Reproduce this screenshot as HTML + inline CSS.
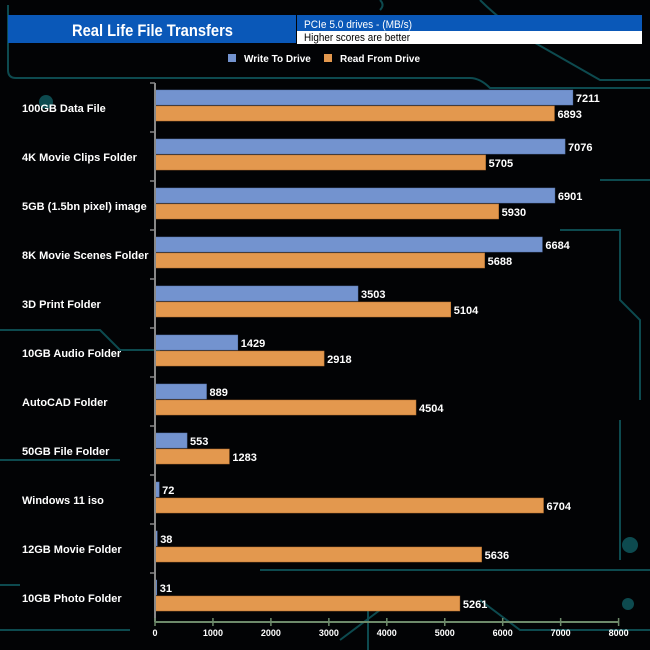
<!DOCTYPE html>
<html><head><meta charset="utf-8"><style>
body{margin:0;background:#000;}
svg{display:block;font-family:"Liberation Sans",Arial,sans-serif;font-weight:bold;}
</style></head><body>
<svg id="chart" width="650" height="650" viewBox="0 0 650 650" xmlns="http://www.w3.org/2000/svg">
<rect width="650" height="650" fill="#020305"/>
<g stroke="#0d4a4f" stroke-width="2" fill="none">
<path d="M8,5 V70 Q8,78 16,78 H470 Q480,78 490,88 H650"/>
<path d="M380,0 Q385,5 380,10"/>
<path d="M480,0 Q500,20 530,40 L600,80 H650"/>
<path d="M0,330 H100 L120,350 H160"/>
<path d="M0,460 H120"/>
<path d="M260,570 H650"/>
<path d="M0,630 H130"/>
<path d="M0,585 H20"/>
<path d="M560,230 H620 V300 L640,320 V400"/>
<path d="M600,180 H650"/>
<path d="M620,420 V560"/>
<path d="M340,640 L380,610 H420"/>
<path d="M368,600 V650"/>
<path d="M480,600 L520,630 H650"/>
</g>
<g fill="#0d4a4f">
<circle cx="630" cy="545" r="8"/><circle cx="628" cy="604" r="6"/><circle cx="46" cy="102" r="7"/>
</g>
<rect x="8" y="15" width="288" height="28" fill="#0a58b8"/>
<text x="72" y="36" fill="#fff" font-size="17" textLength="161" lengthAdjust="spacingAndGlyphs">Real Life File Transfers</text>
<rect x="297" y="15" width="345" height="16" fill="#0a58b8"/>
<rect x="297" y="31" width="345" height="13" fill="#fff"/>
<text x="304" y="28" fill="#fff" font-size="11" font-weight="normal" textLength="108" lengthAdjust="spacingAndGlyphs">PCIe 5.0 drives - (MB/s)</text>
<text x="304" y="41" fill="#000" font-size="11" font-weight="normal" textLength="106" lengthAdjust="spacingAndGlyphs">Higher scores are better</text>
<g font-size="10" fill="#fff">
<rect x="228" y="54" width="8" height="8" fill="#7393cf"/>
<text x="244" y="62">Write To  Drive</text>
<rect x="324" y="54" width="8" height="8" fill="#e3984e"/>
<text x="340" y="62">Read From  Drive</text>
</g>
<g id="plot"></g>
</svg>
<script>
const categories=["100GB Data File","4K Movie Clips Folder","5GB (1.5bn pixel) image","8K Movie Scenes Folder","3D Print Folder","10GB Audio Folder","AutoCAD Folder","50GB File Folder","Windows 11 iso","12GB Movie Folder","10GB Photo Folder"];
const writeValues=[7211,7076,6901,6684,3503,1429,889,553,72,38,31];
const readValues=[6893,5705,5930,5688,5104,2918,4504,1283,6704,5636,5261];
const tickLabels=[0,1000,2000,3000,4000,5000,6000,7000,8000];
const NS="http://www.w3.org/2000/svg";
const x0=155,x1=618.6,xmax=8000,yTop=83,band=49,axisY=622;
const xs=v=>x0+(v/xmax)*(x1-x0);
const plot=document.getElementById('plot');
function mk(t,a,txt){const e=document.createElementNS(NS,t);for(const k in a)e.setAttribute(k,a[k]);if(txt!==undefined)e.textContent=txt;plot.appendChild(e);return e;}
categories.forEach((c,i)=>{
 const y=yTop+i*band;
 let b=mk('rect',{x:x0,y:y+7,width:xs(writeValues[i])-x0,height:15,fill:'#7393cf',stroke:'#5a78b0','stroke-width':0.5});
 
 
 let r=mk('rect',{x:x0,y:y+23,width:xs(readValues[i])-x0,height:15,fill:'#e3984e',stroke:'#b8722e','stroke-width':0.5});
 
 
 let t1=mk('text',{x:xs(writeValues[i])+3,y:y+19,fill:'#fff','font-size':11},writeValues[i]);
 
 
 let t2=mk('text',{x:xs(readValues[i])+3,y:y+35,fill:'#fff','font-size':11},readValues[i]);
 
 
 let l=mk('text',{x:22,y:y+29,fill:'#fff','font-size':11},c);
 
 
 let tk=mk('line',{x1:150,x2:155,y1:y,y2:y,stroke:'#888','stroke-width':1.5});
 
 
});
let ya=mk('line',{x1:155,x2:155,y1:yTop,y2:axisY,stroke:'#888','stroke-width':2});


let xa=mk('line',{x1:155,x2:x1,y1:axisY,y2:axisY,stroke:'#6d8a6a','stroke-width':2});


tickLabels.forEach(v=>{
 let t=mk('line',{x1:xs(v),x2:xs(v),y1:axisY-4,y2:axisY+4,stroke:'#6d8a6a','stroke-width':1.5});
 
 
 let tl=mk('text',{x:xs(v),y:636,fill:'#fff','font-size':9,'text-anchor':'middle'},v);
 
 
});
</script>
</body></html>
